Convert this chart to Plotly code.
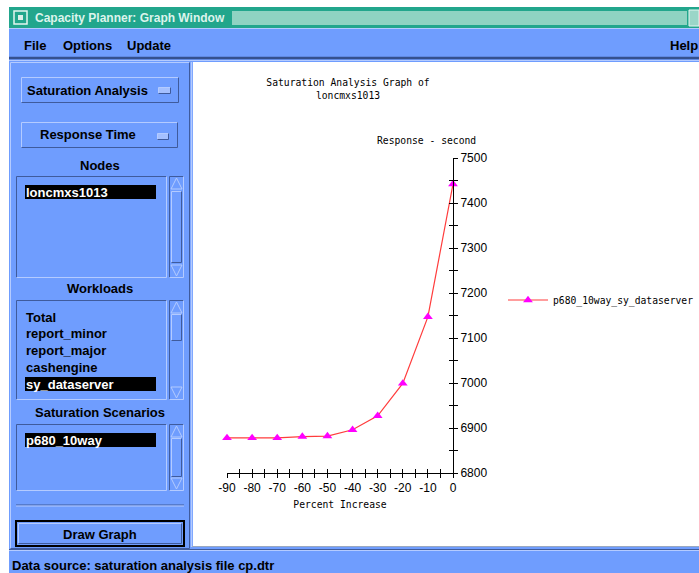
import plotly.graph_objects as go

W, H = 699, 573

# ---------------- data ----------------
percent_increase = [-90, -80, -70, -60, -50, -40, -30, -20, -10, 0]
response_seconds = [6878, 6878, 6878, 6881, 6882, 6896, 6927, 6999, 7147, 7442]
series_name = "p680_10way_sy_dataserver"

x_tick_vals = [-90, -80, -70, -60, -50, -40, -30, -20, -10, 0]
x_tick_labels = ["-90", "-80", "-70", "-60", "-50", "-40", "-30", "-20", "-10", "0"]
y_tick_vals = [6800, 6900, 7000, 7100, 7200, 7300, 7400, 7500]
y_tick_labels = ["6800", "6900", "7000", "7100", "7200", "7300", "7400", "7500"]

chart_title = "Saturation Analysis Graph of<br>loncmxs1013"
y_axis_title = "Response - second"
x_axis_title = "Percent Increase"

window_title = "Capacity Planner: Graph Window"
menu_items = ["File", "Options", "Update"]
help_item = "Help"
nodes = ["loncmxs1013"]
workloads = ["Total", "report_minor", "report_major", "cashengine", "sy_dataserver"]
scenarios = ["p680_10way"]
status_text = "Data source: saturation analysis file cp.dtr"

# ---------------- styles ----------------
BLUE = "#6f9dfe"
LIGHT = "#b4cbff"
DARK = "#3f5b9c"
TEAL = "#22a68c"
STIPPLE = "#8fd3c2"
GUI_FONT = "Liberation Sans"
MONO = "DejaVu Sans Mono"
MONO_SIZE = 9.7
PAD = 2  # annotation inner padding compensation


def px(x):
    return x / W


def py(y):
    return 1 - y / H


shapes = []
annotations = []


def rect(x0, y0, x1, y1, fill, line=None, lw=1):
    shapes.append(dict(type="rect", xref="paper", yref="paper",
                       x0=px(x0), x1=px(x1), y0=py(y1), y1=py(y0),
                       fillcolor=fill,
                       line=dict(color=line if line else fill, width=lw if line else 0),
                       layer="below"))


def seg(x0, y0, x1, y1, color, lw=1):
    shapes.append(dict(type="line", xref="paper", yref="paper",
                       x0=px(x0), x1=px(x1), y0=py(y0), y1=py(y1),
                       line=dict(color=color, width=lw), layer="below"))


def bevel(x0, y0, x1, y1, raised=True, fill=None, lw=1):
    if fill:
        rect(x0, y0, x1, y1, fill)
    tl = LIGHT if raised else DARK
    br = DARK if raised else LIGHT
    seg(x0, y0, x1, y0, tl, lw)
    seg(x0, y0, x0, y1, tl, lw)
    seg(x0, y1, x1, y1, br, lw)
    seg(x1, y0, x1, y1, br, lw)


def tri(x0, y0, x1, y1, up=True):
    xc = (x0 + x1) / 2
    if up:
        pts = [(x0, y1), (xc, y0), (x1, y1)]
    else:
        pts = [(x0, y0), (xc, y1), (x1, y0)]
    path = "M " + " L ".join(f"{px(a)},{py(b)}" for a, b in pts) + " Z"
    shapes.append(dict(type="path", xref="paper", yref="paper", path=path,
                       fillcolor=BLUE, line=dict(color=LIGHT, width=1), layer="below"))


def label(x, y, text, size=13, color="black", bold=True, xanchor="left", family=GUI_FONT):
    if xanchor == "left":
        x -= PAD
    elif xanchor == "right":
        x += PAD
    annotations.append(dict(xref="paper", yref="paper", x=px(x), y=py(y), text=text,
                            showarrow=False, xanchor=xanchor, yanchor="middle",
                            font=dict(family=family, size=size, color=color,
                                      weight="bold" if bold else "normal")))


# ---------------- window chrome ----------------
# title bar
rect(9, 7, 699, 28, TEAL)
rect(232, 11, 687, 25, STIPPLE)
rect(14, 11, 27, 24, TEAL, line="#e4f6f0", lw=1.5)
rect(18, 15, 23, 20, "#dcefe9")
rect(689, 10, 699, 26, "#9ad6c8", line="#e4f6f0", lw=1)
label(35, 18, window_title, size=12, color="#dcf4ec")

# menubar + body
rect(9, 28, 699, 573, BLUE)
seg(9, 28.5, 699, 28.5, LIGHT, 1)
seg(9, 58, 699, 58, "#34508f", 2.5)
seg(9, 60.5, 699, 60.5, LIGHT, 1)
menu_x = [24, 63, 127]
for mx, item in zip(menu_x, menu_items):
    label(mx, 45, item)
label(698, 45, help_item, xanchor="right")

# left panel frame
bevel(10.5, 62.5, 189.5, 548.5, raised=True)

# main white area
rect(193, 62, 699, 546, "white")
seg(191.5, 62, 191.5, 547, LIGHT, 1.5)
seg(192, 546.5, 699, 546.5, "#9aa8c0", 1)

# status bar
seg(9, 549.5, 699, 549.5, DARK, 1)
seg(9, 550.5, 699, 550.5, LIGHT, 1)
label(12, 565, status_text)

# buttons
bevel(21.5, 77.5, 178.5, 102.5, raised=True)
label(27, 90, "Saturation Analysis")
bevel(158.5, 87.5, 170.5, 93.5, raised=True, fill="#a4c0ff")
bevel(21.5, 122.5, 177.5, 147.5, raised=True)
label(88, 135, "Response Time", xanchor="center")
bevel(157.5, 133.5, 168.5, 139.5, raised=True, fill="#a4c0ff")

# section labels
label(100, 165, "Nodes", xanchor="center")
label(100, 288, "Workloads", xanchor="center")
label(100, 412, "Saturation Scenarios", xanchor="center")


def listbox(y0, y1, items, first_y, step, selected, slider):
    bevel(16.5, y0 + 0.5, 166.5, y1 + 0.5, raised=False)
    # scrollbar
    bevel(169.5, y0 + 0.5, 183.5, y1 + 0.5, raised=False)
    tri(171, y0 + 2, 182, y0 + 13, up=True)
    tri(171, y1 - 12, 182, y1 - 1, up=False)
    bevel(171.5, slider[0] + 0.5, 181.5, slider[1] + 0.5, raised=True)
    for i, it in enumerate(items):
        yy = first_y + i * step
        if it == selected:
            rect(25, yy - 7, 156, yy + 7, "black")
            label(26, yy, it, color="white")
        else:
            label(26, yy, it)


listbox(176, 277, nodes, 192, 17, "loncmxs1013", (191, 262))
listbox(300, 399, workloads, 317, 16.75, "sy_dataserver", (314, 340))
listbox(424, 490, scenarios, 440, 17, "p680_10way", (438, 476))

# separator
seg(16, 505, 184, 505, DARK, 1)
seg(16, 506, 184, 506, LIGHT, 1)

# Draw Graph button
rect(16, 521, 184, 546, BLUE, line="black", lw=2)
bevel(18.5, 523.5, 181.5, 543.5, raised=True)
label(100, 534, "Draw Graph", xanchor="center")

# axis title for y (horizontal, above the axis)
annotations.append(dict(xref="paper", yref="paper", x=px(427), y=py(140),
                        text=y_axis_title, showarrow=False, xanchor="center",
                        yanchor="middle", font=dict(family=MONO, size=MONO_SIZE, color="black")))

# ---------------- chart ----------------
fig = go.Figure()
fig.add_trace(go.Scatter(
    x=percent_increase, y=response_seconds, name=series_name,
    mode="lines+markers",
    line=dict(color="#ff3c3c", width=1.2),
    marker=dict(symbol="triangle-up", size=8.5, color="#ff00ff"),
    cliponaxis=False, xaxis="x", yaxis="y"))
# companion trace on the overlay axes (gives the crossing tick marks)
fig.add_trace(go.Scatter(
    x=percent_increase, y=response_seconds, mode="markers",
    marker=dict(opacity=0), showlegend=False, hoverinfo="skip",
    xaxis="x2", yaxis="y2"))

XD = [px(227), px(453)]
YD = [py(473), py(158)]
tickfont = dict(family=GUI_FONT, size=12, color="black")

fig.update_layout(
    width=W, height=H,
    margin=dict(l=0, r=0, t=0, b=0, pad=0, autoexpand=False),
    paper_bgcolor="white", plot_bgcolor="rgba(0,0,0,0)",
    shapes=shapes, annotations=annotations,
    title=dict(text=chart_title, x=px(348), y=py(86), xref="paper", yref="paper",
               xanchor="center", yanchor="middle",
               font=dict(family=MONO, size=MONO_SIZE, color="black")),
    showlegend=True,
    legend=dict(x=px(503), y=py(300), xanchor="left", yanchor="middle",
                bgcolor="rgba(0,0,0,0)", borderwidth=0, itemwidth=40,
                font=dict(family=MONO, size=MONO_SIZE, color="black")),
    xaxis=dict(domain=XD, range=[-90, 0], anchor="y", showgrid=False, zeroline=False,
               showline=True, linecolor="black", linewidth=1,
               tickmode="array", tickvals=x_tick_vals, ticktext=x_tick_labels,
               ticks="outside", ticklen=4, tickcolor="black", tickwidth=1,
               minor=dict(dtick=5, ticks="outside", ticklen=4, tickcolor="black", tickwidth=1),
               tickfont=tickfont,
               title=dict(text=x_axis_title, standoff=6,
                          font=dict(family=MONO, size=MONO_SIZE, color="black"))),
    yaxis=dict(domain=YD, range=[6800, 7500], anchor="x", side="right",
               showgrid=False, zeroline=False,
               showline=True, linecolor="black", linewidth=1,
               tickmode="array", tickvals=y_tick_vals, ticktext=y_tick_labels,
               ticks="outside", ticklen=4, tickcolor="black", tickwidth=1,
               minor=dict(dtick=50, ticks="outside", ticklen=4, tickcolor="black", tickwidth=1),
               tickfont=tickfont),
    xaxis2=dict(domain=XD, overlaying="x", matches="x", anchor="y2", side="bottom",
                showgrid=False, zeroline=False, showline=False, showticklabels=False,
                tickmode="array", tickvals=x_tick_vals,
                ticks="inside", ticklen=4, tickcolor="black", tickwidth=1,
                minor=dict(dtick=5, ticks="inside", ticklen=4, tickcolor="black", tickwidth=1)),
    yaxis2=dict(domain=YD, overlaying="y", matches="y", anchor="x2", side="right",
                showgrid=False, zeroline=False, showline=False, showticklabels=False,
                tickmode="array", tickvals=y_tick_vals,
                ticks="inside", ticklen=4, tickcolor="black", tickwidth=1,
                minor=dict(dtick=50, ticks="inside", ticklen=4, tickcolor="black", tickwidth=1)),
)

fig.write_html("out.html",
               config={"displayModeBar": False},
               post_script="document.body.style.margin='0';document.body.style.overflow='hidden';")
